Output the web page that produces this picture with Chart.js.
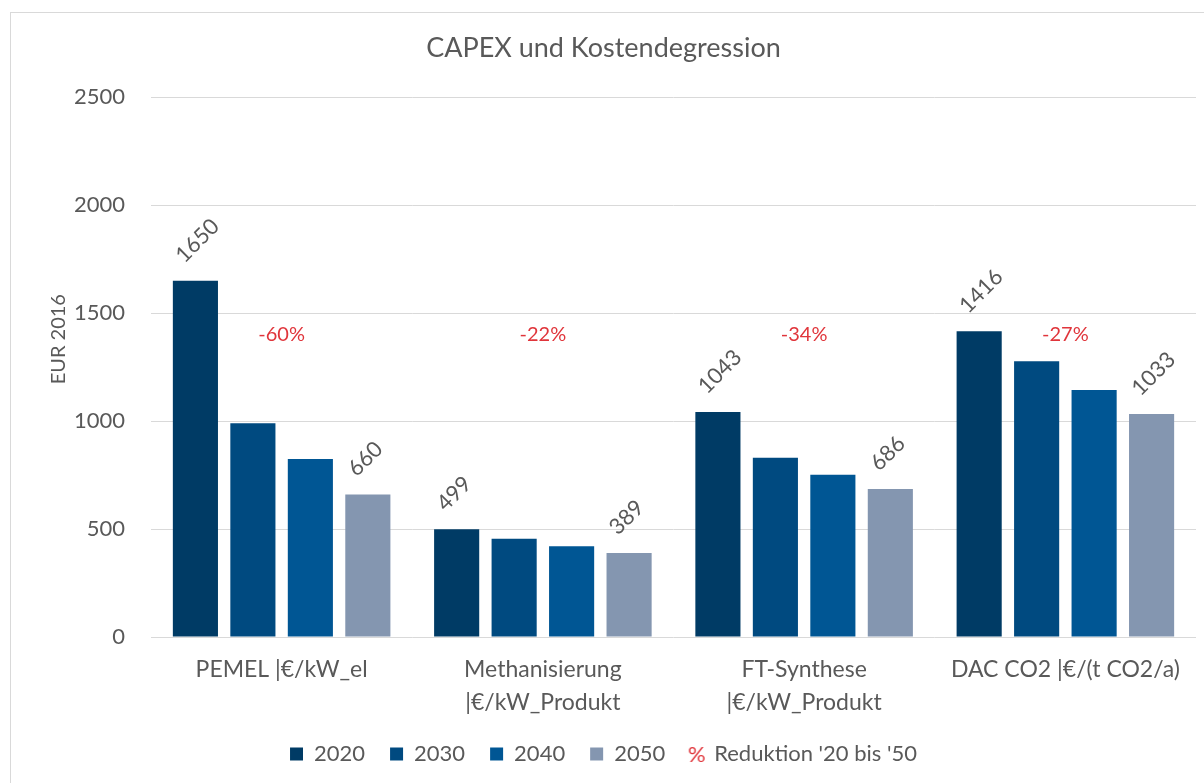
<!DOCTYPE html>
<html>
<head>
<meta charset="utf-8">
<script src="https://cdn.jsdelivr.net/npm/chart.js@4.4.1/dist/chart.umd.min.js"></script>
<style>
html, body { margin: 0; padding: 0; background: #fff; overflow: hidden; }
#rahmen { position: absolute; left: 10px; top: 12px; width: 1194px; height: 771px; border-left: 1px solid #d9d9d9; border-top: 1px solid #d9d9d9; box-sizing: border-box; }
#innen { position: relative; width: 100%; height: 100%; }
</style>
</head>
<body>
<div id="rahmen"><div id="innen"><canvas id="capexChart"></canvas></div></div>
<script>
// Kategorien (mehrzeilige Achsenbeschriftung)
const kategorien = [
    ['PEMEL |€/kW_el'],
    ['Methanisierung', '|€/kW_Produkt'],
    ['FT-Synthese', '|€/kW_Produkt'],
    ['DAC CO2 |€/(t CO2/a)']
];
const jahre = ['2020', '2030', '2040', '2050'];
const werte2020 = [1650, 499, 1043, 1416];
const werte2030 = [990, 455, 830, 1278];
const werte2040 = [825, 420, 752, 1144];
const werte2050 = [660, 389, 686, 1033];
const reduktion = ['-60%', '-22%', '-34%', '-27%'];
const reduktionText = "Reduktion '20 bis '50";
const achsenTitel = 'EUR 2016';
const farben = ['#003b65', '#004a80', '#005694', '#8496b0'];
const yMax = 2500, yStep = 500;

const grau = '#595959';
const rot = '#e0353b';
const schrift = 'Lato';

// kleines Bild mit rotem % für die Legende
const prozentBild = document.createElement('canvas');
prozentBild.width = 22; prozentBild.height = 26;
const pc = prozentBild.getContext('2d');
pc.font = '22px ' + schrift; pc.fillStyle = rot; pc.textAlign = 'center'; pc.textBaseline = 'middle';
pc.fillText('%', 11, 14);

const beschriftung = {
    id: 'beschriftung',
    afterDatasetsDraw(chart, args, opts) {
        const ctx = chart.ctx;
        const area = chart.chartArea;
        ctx.save();
        ctx.font = '22px ' + schrift;
        ctx.fillStyle = grau;
        ctx.textAlign = 'left';
        ctx.textBaseline = 'middle';
        // nur 2020 und 2050 beschriftet, 45° gedreht
        [0, 3].forEach(di => {
            chart.getDatasetMeta(di).data.forEach((bar, i) => {
                ctx.save();
                ctx.translate(bar.x - 16, bar.y - 22);
                ctx.rotate(-Math.PI / 4);
                ctx.fillText(String(chart.data.datasets[di].data[i]), 0, 0);
                ctx.restore();
            });
        });
        // Achsentitel links
        ctx.save();
        ctx.font = '20px ' + schrift;
        ctx.textAlign = 'center';
        ctx.translate(opts.titelX, (area.top + area.bottom) / 2 - 28);
        ctx.rotate(-Math.PI / 2);
        ctx.fillText(achsenTitel, 0, 0);
        ctx.restore();
        // rote Reduktionswerte
        ctx.fillStyle = rot;
        ctx.font = '20px ' + schrift;
        ctx.textAlign = 'center';
        const y = chart.scales.y.getPixelForValue(opts.hoehe);
        reduktion.forEach((t, i) => ctx.fillText(t, chart.scales.x.getPixelForValue(i), y));
        ctx.restore();
    }
};

const datasets = jahre.map((j, i) => ({
    label: j,
    data: [werte2020, werte2030, werte2040, werte2050][i],
    backgroundColor: farben[i],
    pointStyle: 'rect',
    barPercentage: 0.785,
    categoryPercentage: 0.88
}));
datasets.push({ type: 'line', label: reduktionText, data: [], pointStyle: prozentBild, borderColor: rot, backgroundColor: rot });

new Chart(document.getElementById('capexChart'), {
    type: 'bar',
    data: { labels: kategorien, datasets: datasets },
    plugins: [beschriftung],
    options: {
        responsive: true,
        maintainAspectRatio: false,
        animation: false,
        layout: { padding: { left: 0, right: 8, bottom: 8 } },
        plugins: {
            beschriftung: { hoehe: 1400, titelX: 48 },
            tooltip: { enabled: false },
            title: { display: true, text: 'CAPEX und Kostendegression', color: grau, font: { family: schrift, size: 27, weight: 'normal' }, padding: { top: 19, bottom: 33 } },
            legend: {
                position: 'bottom',
                labels: { usePointStyle: true, boxWidth: 13, boxHeight: 13, padding: 25, color: grau, font: { family: schrift, size: 22 } }
            }
        },
        scales: {
            x: {
                grid: { display: false },
                border: { display: false },
                ticks: { color: grau, padding: 8, font: { family: schrift, size: 23, lineHeight: 1.43 }, maxRotation: 0, autoSkip: false },
                afterFit(s) { s.height = 81; }
            },
            y: {
                min: 0, max: yMax,
                grid: { color: '#d9d9d9', drawTicks: false },
                border: { display: false },
                ticks: { stepSize: yStep, color: grau, padding: 26, font: { family: schrift, size: 22 }, callback: v => String(v) },
                afterFit(s) { s.width = 140; }
            }
        }
    }
});
</script>
</body>
</html>
